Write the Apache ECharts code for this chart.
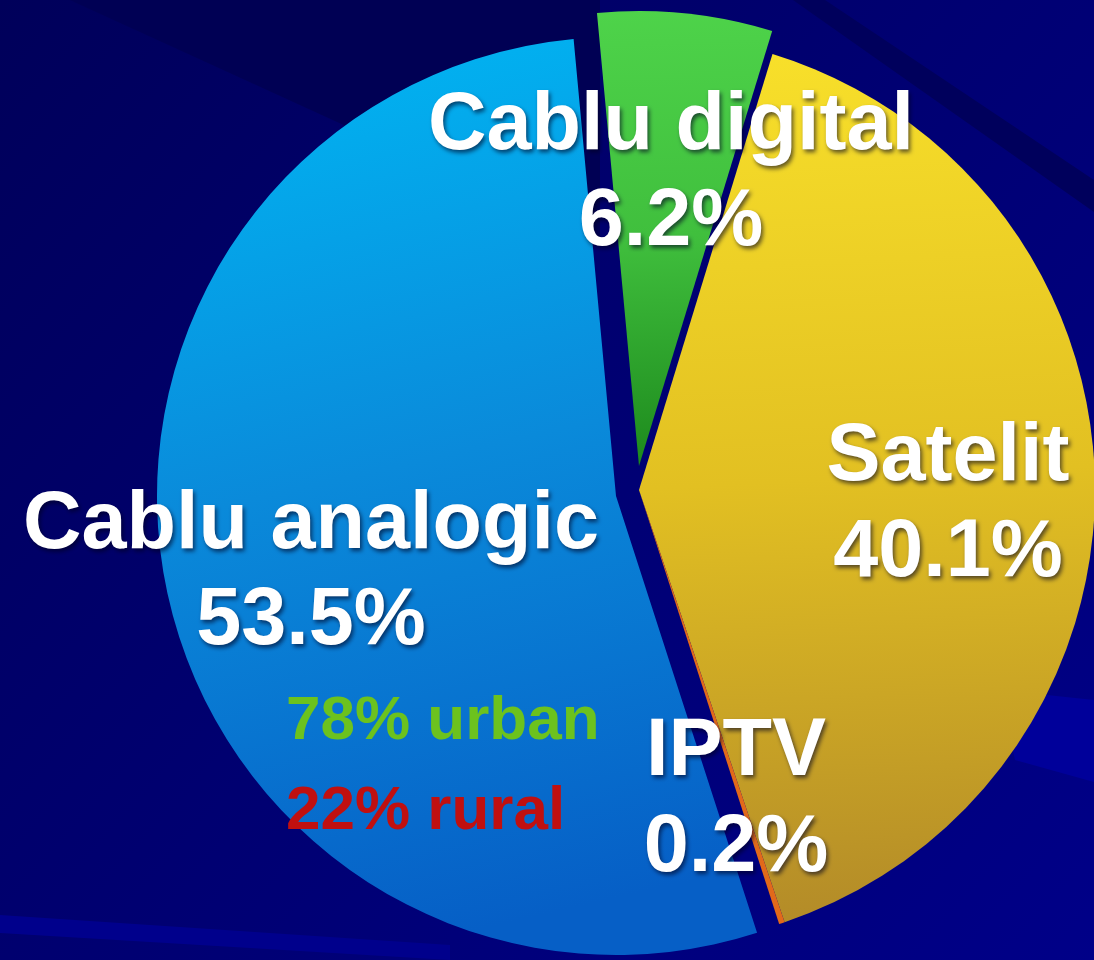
<!DOCTYPE html>
<html>
<head>
<meta charset="utf-8">
<script src="https://cdn.jsdelivr.net/npm/echarts@6/dist/echarts.min.js"></script>
<style>
  html, body { margin: 0; padding: 0; background: #000070; }
  #chart { width: 1094px; height: 960px; }
</style>
</head>
<body>
<div id="chart"></div>
<script>
// data
const names = ['Cablu digital', 'Satelit', 'IPTV', 'Cablu analogic'];
const values = [6.2, 40.1, 0.2, 53.5];
const notes = ['78% urban', '22% rural'];

// each slice is pulled out a bit differently, so every slice gets its own center
const centers = [[639, 466], [639, 490], [639, 490], [616, 496]];
const radii = [455, 456, 456, 459];
const labelPos = [[671, 175], [948, 506], [736, 801], [311, 574]];

function grad(x2, y2, stops) {
  return new echarts.graphic.LinearGradient(0, 0, x2, y2,
    stops.map((c, k) => ({ offset: k / (stops.length - 1), color: c })));
}
const fills = [
  grad(0.1, 1, ['#4ed34a', '#40bf3d', '#1d8a1d']),
  grad(0.1, 1, ['#f8e02a', '#e2c022', '#b48c28']),
  '#e2691a',
  grad(0.35, 1, ['#00b8f4', '#0a8ada', '#065fc6'])
];

const chart = echarts.init(document.getElementById('chart'));

// one pie per slice, the other slices left invisible
const series = names.map((_, i) => ({
  type: 'pie',
  center: centers[i],
  radius: [0, radii[i]],
  startAngle: 95.3,
  clockwise: true,
  avoidLabelOverlap: false,
  silent: true,
  animation: false,
  labelLine: { show: false },
  data: names.map((n, j) => ({
    name: n,
    value: values[j],
    itemStyle: { color: j === i ? fills[i] : 'rgba(0,0,0,0)', borderWidth: 0 },
    label: { show: j === i }
  })),
  label: {
    position: 'inside',
    formatter: '{b}\n{d}%',
    color: '#fff',
    fontFamily: '"Liberation Sans", Arial, sans-serif',
    fontWeight: 'bold',
    fontSize: 81,
    lineHeight: 96,
    textShadowColor: 'rgba(0,0,30,0.6)',
    textShadowBlur: 4,
    textShadowOffsetX: 2,
    textShadowOffsetY: 3
  },
  labelLayout: function () {
    return { x: labelPos[i][0], y: labelPos[i][1], align: 'center', verticalAlign: 'middle' };
  }
}));

const option = {
  backgroundColor: new echarts.graphic.LinearGradient(0, 0, 1, 1, [
    { offset: 0, color: '#00005a' },
    { offset: 0.5, color: '#000072' },
    { offset: 1, color: '#000088' }
  ]),
  graphic: [
    // background streaks
    { type: 'polygon', z: 0, shape: { points: [[793, 0], [825, 0], [1094, 180], [1094, 212]] }, style: { fill: '#00005c' } },
    { type: 'polygon', z: 0, shape: { points: [[70, 0], [600, 0], [600, 242]] }, style: { fill: '#000054' } },
    { type: 'polygon', z: 0, shape: { points: [[0, 915], [450, 945], [450, 960], [0, 933]] }, style: { fill: '#00008c' } },
    { type: 'polygon', z: 0, shape: { points: [[1000, 690], [1094, 700], [1094, 782], [1015, 760]] }, style: { fill: '#00009a' } },
    // urban / rural split of the analog cable share
    {
      type: 'text', z: 100, x: 286, y: 722,
      style: { text: notes[0], fill: '#6cc21e', font: 'bold 62px "Liberation Sans", Arial, sans-serif', textAlign: 'left', textVerticalAlign: 'middle' }
    },
    {
      type: 'text', z: 100, x: 286, y: 812,
      style: { text: notes[1], fill: '#c01010', font: 'bold 62px "Liberation Sans", Arial, sans-serif', textAlign: 'left', textVerticalAlign: 'middle' }
    }
  ],
  series: series
};

chart.setOption(option);
</script>
</body>
</html>
